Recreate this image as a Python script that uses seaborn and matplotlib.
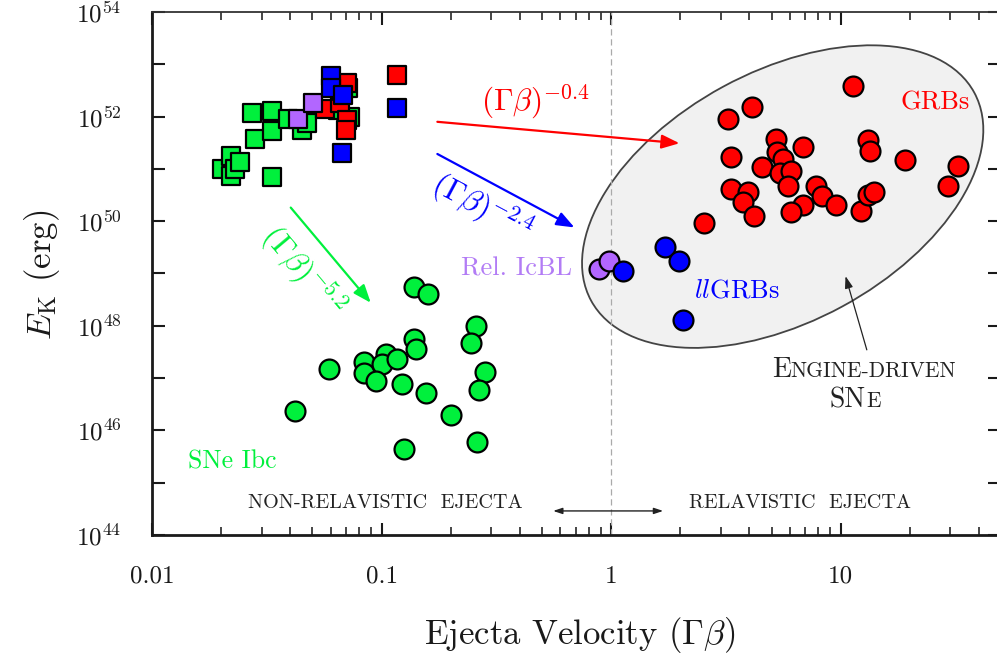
import numpy as np
import pandas as pd
import matplotlib
matplotlib.use("Agg")
import matplotlib.pyplot as plt
import seaborn as sns
from matplotlib.patches import Ellipse
from matplotlib.transforms import ScaledTranslation
from matplotlib.ticker import FixedLocator, FuncFormatter, LogLocator, NullLocator
from matplotlib.offsetbox import TextArea, HPacker, AnnotationBbox

# ---- data: Gamma*beta and log10(E_K / erg) ----
# squares (fast ejecta from optical spectra)
sq_ibc_v = [0.0201, 0.0221, 0.0221, 0.0230, 0.0242, 0.0272, 0.0281, 0.0332, 0.0332,
            0.0332, 0.0393, 0.0452, 0.0472, 0.0646, 0.0717, 0.0728]
sq_ibc_logE = [50.99, 51.25, 50.87, 51.00, 51.14, 52.07, 51.57, 52.11, 51.72,
               50.85, 51.95, 51.74, 51.88, 52.13, 52.54, 52.00]
sq_grb_v = [0.0567, 0.0660, 0.0671, 0.0705, 0.0710, 0.0700, 0.117]
sq_grb_logE = [52.14, 52.25, 52.48, 52.64, 51.94, 51.74, 52.80]
sq_icbl_v = [0.0431, 0.0501]
sq_icbl_logE = [51.95, 52.25]
sq_llgrb_v = [0.0601, 0.0601, 0.0678, 0.0671, 0.117]
sq_llgrb_logE = [52.78, 52.54, 52.41, 51.30, 52.17]

# circles (radio-emitting ejecta)
ci_ibc_v = [0.139, 0.159, 0.258, 0.245, 0.139, 0.141, 0.0592, 0.0841, 0.0841, 0.1047,
            0.1008, 0.0946, 0.1172, 0.1233, 0.156, 0.281, 0.267, 0.201, 0.0420, 0.1257, 0.260]
ci_ibc_logE = [48.75, 48.60, 48.00, 47.67, 47.75, 47.55, 47.17, 47.30, 47.10, 47.46,
               47.27, 46.95, 47.37, 46.88, 46.71, 47.12, 46.77, 46.29, 46.38, 45.65, 45.77]
ci_grb_v = [11.3, 4.12, 3.23, 5.24, 6.82, 13.2, 13.4, 3.33, 5.27, 5.60, 4.54, 19.1, 32.4,
            29.5, 5.45, 6.07, 5.87, 3.33, 3.94, 3.77, 4.21, 7.80, 8.33, 9.56, 6.84, 6.07,
            12.3, 13.2, 14.0, 2.53]
ci_grb_logE = [52.59, 52.19, 51.95, 51.57, 51.42, 51.55, 51.34, 51.23, 51.33, 51.18, 51.03,
               51.17, 51.06, 50.68, 50.92, 50.96, 50.67, 50.61, 50.55, 50.37, 50.09, 50.67,
               50.48, 50.31, 50.31, 50.18, 50.20, 50.50, 50.55, 49.97]
ci_icbl_v = [0.889, 0.983]
ci_icbl_logE = [49.08, 49.23]
ci_llgrb_v = [1.13, 1.72, 1.98, 2.05]
ci_llgrb_logE = [49.05, 49.51, 49.24, 48.11]

x_ticks = [0.01, 0.1, 1, 10]
x_ticklabels = ["0.01", "0.1", "1", "10"]
y_decades = list(range(44, 55))

GREEN = "#00f03c"
RED = "#ff0000"
BLUE = "#0000ff"
PURPLE = "#b266ff"
DARK = "#222222"

sns.set_theme(style="ticks")
plt.rcParams["font.family"] = ["cmr10", "DejaVu Serif"]
plt.rcParams["mathtext.fontset"] = "cm"
plt.rcParams["axes.formatter.use_mathtext"] = True
plt.rcParams["axes.unicode_minus"] = False

fig = plt.figure(figsize=(9.97, 6.65), dpi=100)
ax = fig.add_axes([0.1525, 0.1955, 0.8506, 0.7865])
ax.set_xscale("log")
ax.set_yscale("log")
ax.set_xlim(0.01, 49.5)
ax.set_ylim(1e44, 1e54)

# ellipse around engine-driven events (drawn in inches, centred on a data point)
ell = Ellipse((0, 0), width=4.36, height=2.50, angle=28.5,
              facecolor="#f1f1f1", edgecolor="#444444", lw=1.3, zorder=0.5,
              transform=fig.dpi_scale_trans + ScaledTranslation(5.59, 10**50.47, ax.transData))
ax.add_artist(ell)

ax.axvline(1, color="#aaaaaa", lw=0.9, ls=(0, (5, 3)), zorder=1)


def draw(v, logE, color, marker, size):
    df = pd.DataFrame({"v": v, "E": 10.0 ** np.array(logE)})
    sns.scatterplot(data=df, x="v", y="E", color=color, marker=marker, s=size,
                    edgecolor="black", linewidth=1.6, legend=False, ax=ax, zorder=3)


draw(sq_ibc_v, sq_ibc_logE, GREEN, "s", 155)
draw(sq_grb_v, sq_grb_logE, RED, "s", 155)
draw(sq_icbl_v, sq_icbl_logE, PURPLE, "s", 155)
draw(sq_llgrb_v, sq_llgrb_logE, BLUE, "s", 155)
draw(ci_ibc_v, ci_ibc_logE, GREEN, "o", 205)
draw(ci_grb_v, ci_grb_logE, RED, "o", 205)
draw(ci_icbl_v, ci_icbl_logE, PURPLE, "o", 205)
draw(ci_llgrb_v, ci_llgrb_logE, BLUE, "o", 205)

# slope arrows
arr = dict(arrowstyle="-|>,head_length=0.9,head_width=0.35", lw=1.6, shrinkA=0, shrinkB=0)
ax.annotate("", xy=(1.986, 10**51.49), xytext=(0.175, 10**51.90),
            arrowprops=dict(color=RED, **arr))
ax.annotate("", xy=(0.692, 10**49.88), xytext=(0.175, 10**51.285),
            arrowprops=dict(color=BLUE, **arr))
ax.annotate("", xy=(0.0897, 10**48.44), xytext=(0.0402, 10**50.26),
            arrowprops=dict(color=GREEN, **arr))
ax.text(0.467, 10**52.28, r"$(\Gamma\beta)^{-0.4}$", color=RED, fontsize=22.5,
        ha="center", va="center")
ax.text(0.274, 10**50.27, r"$(\Gamma\beta)^{-2.4}$", color=BLUE, fontsize=22.5,
        ha="center", va="center", rotation=-28, rotation_mode="anchor")
ax.text(0.0450, 10**49.03, r"$(\Gamma\beta)^{-5.2}$", color=GREEN, fontsize=22.5,
        ha="center", va="center", rotation=-50, rotation_mode="anchor")

# group labels
ax.text(25.8, 10**52.26, "GRBs", color=RED, fontsize=19, ha="center", va="center")
ax.text(3.54, 10**48.67, r"$\mathit{ll}$GRBs", color=BLUE, fontsize=19, ha="center", va="center")
ax.text(0.389, 10**49.1, "Rel. IcBL", color="#b27cf5", fontsize=19, ha="center", va="center")
ax.text(0.0223, 10**45.41, "SNe Ibc", color=GREEN, fontsize=18.5, ha="center", va="center")

ax.text(0.1036, 10**44.61, "NON-RELAVISTIC  EJECTA", color=DARK, fontsize=14.5,
        ha="center", va="center")
ax.text(6.66, 10**44.61, "RELAVISTIC  EJECTA", color=DARK, fontsize=14.5,
        ha="center", va="center")
ax.annotate("", xy=(0.559, 10**44.46), xytext=(1.685, 10**44.46),
            arrowprops=dict(arrowstyle="<|-|>,head_length=0.45,head_width=0.15",
                            color=DARK, lw=1.0, shrinkA=0, shrinkB=0))


def small_caps(parts, xy):
    boxes = [TextArea(t, textprops=dict(size=s, color=DARK, family="cmr10")) for t, s in parts]
    pack = HPacker(children=boxes, align="baseline", pad=0, sep=0)
    ab = AnnotationBbox(pack, xy, xycoords="data", frameon=False, box_alignment=(0.5, 0.5))
    ax.add_artist(ab)


small_caps([("E", 20), ("NGINE-DRIVEN", 15.5)], (12.65, 10**47.15))
small_caps([("SN", 20), ("E", 15.5)], (11.57, 10**46.58))
ax.annotate("", xy=(10.5, 10**48.95), xytext=(13.0, 10**47.54),
            arrowprops=dict(arrowstyle="-|>,head_length=0.6,head_width=0.2",
                            color=DARK, lw=0.9, shrinkA=0, shrinkB=0))

# axes styling
for side in ["left", "bottom"]:
    ax.spines[side].set_linewidth(2.0)
    ax.spines[side].set_color("#1a1a1a")
for side in ["top", "right"]:
    ax.spines[side].set_visible(True)
    ax.spines[side].set_linewidth(1.3)
    ax.spines[side].set_color("#333333")

ax.xaxis.set_major_locator(FixedLocator(x_ticks))
ax.xaxis.set_major_formatter(FuncFormatter(lambda v, p: x_ticklabels[x_ticks.index(v)] if v in x_ticks else ""))
ax.xaxis.set_minor_locator(LogLocator(base=10, subs=np.arange(2, 10), numticks=20))
ax.yaxis.set_major_locator(FixedLocator([10.0 ** k for k in y_decades]))
ax.yaxis.set_major_formatter(FuncFormatter(
    lambda v, p: r"$10^{%d}$" % round(np.log10(v)) if round(np.log10(v)) % 2 == 0 else ""))
ax.yaxis.set_minor_locator(NullLocator())

ax.tick_params(which="major", direction="in", length=9, width=1.5, top=True, right=True,
               labelsize=18, colors="#1a1a1a")
ax.tick_params(which="minor", direction="in", length=5.5, width=1.2, top=True, right=True)
ax.tick_params(axis="x", which="major", pad=22, labelsize=18)
ax.tick_params(axis="y", which="major", pad=22)

ax.set_xlabel(r"Ejecta Velocity $(\Gamma\beta)$", fontsize=25, color="#1a1a1a")
ax.set_ylabel(r"$E_{\rm K}$ (erg)", fontsize=25, color="#1a1a1a")
ax.xaxis.set_label_coords((580 - 152) / 848, -0.153)
ax.yaxis.set_label_coords(-0.106, 0.497)

fig.savefig("out.png", dpi=100)
